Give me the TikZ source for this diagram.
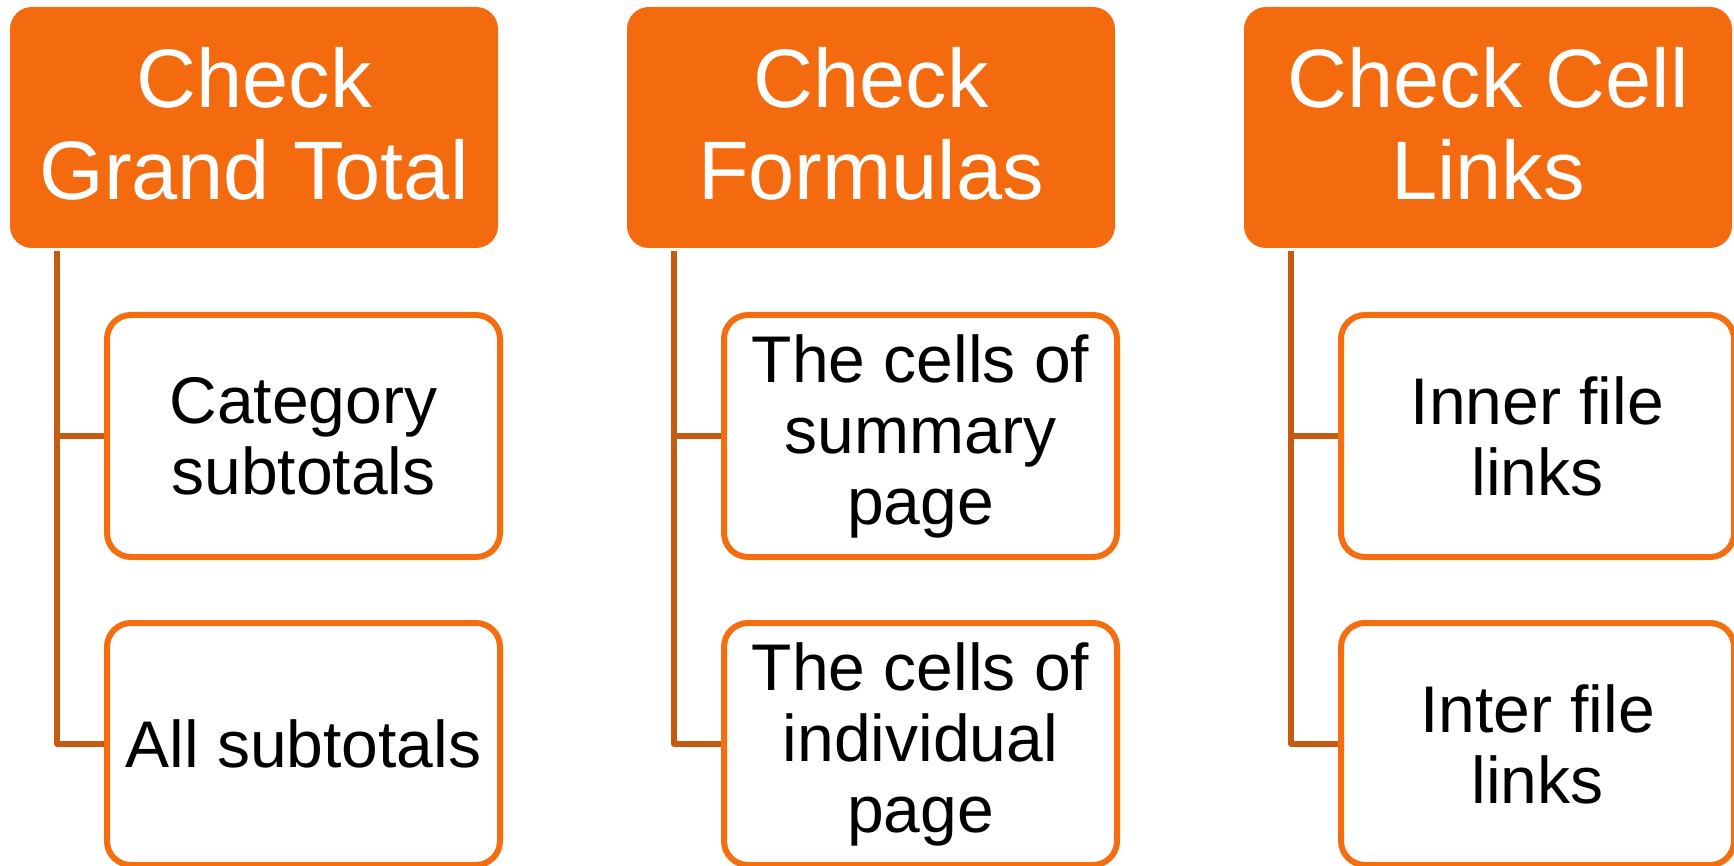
\documentclass[tikz,border=0pt]{standalone}
\usepackage{fontspec}
\setmainfont{Liberation Sans}
\definecolor{hdrfill}{HTML}{F46A0E}
\definecolor{boxline}{HTML}{F46E10}
\definecolor{connline}{HTML}{C55A11}
\newcommand{\hdrlift}{\rule[-9pt]{0pt}{0pt}}
\begin{document}
\begin{tikzpicture}[x=1pt,y=-1pt,
  hdr/.style={rectangle, rounded corners=22pt, fill=hdrfill, text=white,
    minimum width=488pt, minimum height=241pt, inner sep=0pt, align=center,
    font=\fontsize{83}{92}\selectfont},
  child/.style={rectangle, rounded corners=24pt, draw=boxline, line width=6pt, fill=white,
    minimum width=393pt, minimum height=242pt, inner sep=0pt, align=center,
    font=\fontsize{66}{71}\selectfont},
  conn/.style={draw=connline, line width=5.5pt, line join=round}]
\useasboundingbox (0,0) rectangle (1734,866);
% headers
\node[hdr] (h1) at (254,127.5) {Check\\Grand Total\hdrlift};
\node[hdr] (h2) at (871,127.5) {Check\\Formulas\hdrlift};
\node[hdr] (h3) at (1488,127.5) {Check Cell\\Links\hdrlift};
% children
\node[child] (c11) at (303.5,436) {Category\\subtotals};
\node[child] (c12) at (303.5,744) {All subtotals};
\node[child] (c21) at (920.5,436) {The cells of\\summary\\page};
\node[child] (c22) at (920.5,744) {The cells of\\individual\\page};
\node[child] (c31) at (1537.5,436) {Inner file\\links};
\node[child] (c32) at (1537.5,744) {Inter file\\links};
% connectors
\coordinate (v1) at (57,251);
\coordinate (v2) at (674,251);
\coordinate (v3) at (1291,251);
\draw[conn] (v1) |- (c12.west);
\draw[conn] (v1 |- c11.west) -- (c11.west);
\draw[conn] (v2) |- (c22.west);
\draw[conn] (v2 |- c21.west) -- (c21.west);
\draw[conn] (v3) |- (c32.west);
\draw[conn] (v3 |- c31.west) -- (c31.west);
\end{tikzpicture}
\end{document}
